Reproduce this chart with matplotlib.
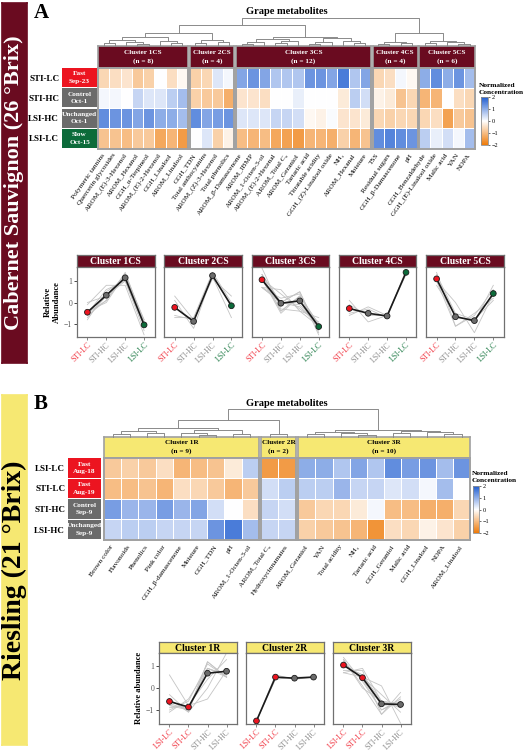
import numpy as np
import matplotlib
matplotlib.use('Agg')
import matplotlib.pyplot as plt
from matplotlib.colors import LinearSegmentedColormap

plt.rcParams['font.family'] = ['Liberation Serif', 'DejaVu Serif']

# ---------------- Panel A : Cabernet Sauvignon ----------------
a_rows = ['STI-LC', 'STI-HC', 'LSI-HC', 'LSI-LC']
a_side = ['Fast\nSep-23', 'Control\nOct-1', 'Unchanged\nOct-1', 'Slow\nOct-15']
a_clusters = ['Cluster 1CS', 'Cluster 2CS', 'Cluster 3CS', 'Cluster 4CS', 'Cluster 5CS']
a_n = [8, 4, 12, 4, 6]
a_labels = [
    ['Polymeric tannins', 'Quercetin glycosides', 'AROM_(E)-3-Hexenol', 'AROM_Hexanol',
     'GGH_α-Terpineol', 'AROM_(E)-2-Hexenol', 'GGH_Linalool', 'AROM_Linalool'],
    ['GGH_TDN', 'Total anthocyanins', 'AROM_(Z)-3-Hexenol', 'Total phenolics'],
    ['AROM_β-Damascenone', 'AROM_IBMP', 'AROM_1-Octen-3-ol', 'AROM_(E)-2-Hexenal',
     'AROM_Total C₆', 'AROM_Geraniol', 'Tartaric acid', 'Titratable acidity',
     'GGH_(Z)-Linalool oxide', 'NH₃', 'AROM_Hexanal', 'Moisture'],
    ['TSS', 'Residual sugars', 'GGH_β-Damascenone', 'pH'],
    ['GGH_Benzaldehyde', 'GGH_(E)-Linalool oxide', 'Malic acid', 'YAN', 'NOPA'],
]
# normalized concentration, rows = a_rows
a1 = [[-0.6, -0.5, -0.4, -0.8, -0.7, 0.0, -0.5, -0.1],
      [0.1, 0.1, 0.0, 0.5, 0.3, 0.3, 0.6, 0.8],
      [1.4, 1.3, 1.3, 1.1, 1.3, 1.0, 1.0, 0.8],
      [-0.9, -0.9, -1.0, -0.8, -0.8, -1.3, -1.1, -1.5]]
a2 = [[-0.7, -0.6, 0.3, 0.1],
      [-0.7, -0.8, -0.8, -1.2],
      [1.4, 1.1, 1.2, 1.3],
      [0.0, 0.3, -0.7, -0.2]]
a3 = [[1.1, 1.3, 1.1, 0.7, 0.7, 0.7, 1.3, 1.3, 1.1, 1.6, 0.7, 1.1],
      [-0.4, -0.4, -0.5, 0.0, 0.0, 0.2, 0.0, 0.0, 0.0, -0.3, 0.6, 0.4],
      [0.3, 0.3, 0.3, 0.5, 0.5, 0.4, -0.1, -0.2, 0.05, -0.4, -0.4, -0.3],
      [-1.0, -1.1, -1.0, -1.3, -1.4, -1.5, -1.1, -1.1, -1.2, -0.7, -1.1, -0.9]]
a4 = [[-0.6, -0.5, 0.1, -0.1],
      [-0.2, -0.3, -0.9, -0.6],
      [-0.6, -0.7, -0.6, -0.6],
      [1.4, 1.5, 1.4, 1.3]]
a5 = [[1.0, 1.4, 1.0, 1.3, 0.8],
      [-1.1, -1.1, 0.0, -0.5, -0.6],
      [-0.6, -0.5, -1.4, -0.8, -0.9],
      [0.6, 0.2, 0.4, 0.1, 0.8]]
a_vals = [a1, a2, a3, a4, a5]

# dendrogram (height, left, right); ints = leaves, 'cK' = cluster K subtree
a_trees = [
    (9, (6, (3, 0, 1), (4, 2, (2, 3, 4))), (5, 5, (3, 6, 7))),
    (6, (3, 0, 1), (4, 2, 3)),
    (9, (7, (4, (2, 0, 1), 2), (5, (3, 3, 4), 5)), (8, (4, (2, 6, 7), 8), (5, 9, (3, 10, 11)))),
    (4, (2, 0, 1), (3, 2, 3)),
    (5, (3, 0, 1), (4, 2, (2, 3, 4))),
]
a_top = (28, (21, (13, 'c0', 'c1'), 'c2'), (13, 'c3', 'c4'))

# ---------------- Panel B : Riesling ----------------
b_rows = ['LSI-LC', 'STI-LC', 'STI-HC', 'LSI-HC']
b_side = ['Fast\nAug-18', 'Fast\nAug-19', 'Control\nSep-9', 'Unchanged\nSep-9']
b_clusters = ['Cluster 1R', 'Cluster 2R', 'Cluster 3R']
b_n = [9, 2, 10]
b_labels = [
    ['Brown color', 'Flavonoids', 'Phenolics', 'Pink color', 'GGH_β-damascenone',
     'Moisture', 'GGH_TDN', 'pH', 'AROM_1-Octen-3-ol'],
    ['AROM_Total C₆', 'Hydroxycinnamates'],
    ['AROM_Geraniol', 'YAN', 'Total acidity', 'NH₃', 'Tartaric acid', 'GGH_Geraniol',
     'Malic acid', 'GGH_Linalool', 'NOPA', 'AROM_Linalool'],
]
b1 = [[-0.8, -0.7, -0.8, -0.5, -1.1, -1.0, -0.9, -0.3, 0.6],
      [-1.0, -1.0, -0.9, -1.1, -0.5, -0.6, -0.8, -1.1, -0.8],
      [1.2, 0.9, 0.9, 1.2, 0.9, 1.1, 0.4, 0.0, -0.5],
      [0.5, 0.6, 0.6, 0.5, 0.5, 0.5, 1.3, 1.6, 0.8]]
b2 = [[-1.5, -1.5],
      [0.4, 0.6],
      [0.5, 0.4],
      [0.5, 0.5]]
b3 = [[1.0, 1.0, 0.7, 1.1, 0.7, 1.4, 1.2, 1.3, 0.8, 1.3],
      [0.6, 0.6, 0.9, 0.5, 0.5, 0.3, 0.4, 0.1, 0.8, 0.0],
      [-0.8, -0.6, -0.6, -0.3, 0.1, -1.0, -1.0, -1.2, -1.2, -0.6],
      [-0.7, -0.8, -0.9, -1.1, -1.6, -0.5, -0.6, -0.2, -0.4, -0.7]]
b_vals = [b1, b2, b3]
b_trees = [
    (9, (6, (3, 0, 1), (4, 2, 3)), (7, (4, 4, (2, 5, 6)), (3, 7, 8))),
    (3, 0, 1),
    (7, (5, (3, 0, 1), (4, 2, (2, 3, 4))), (6, (4, 5, 6), (5, 7, (3, 8, 9)))),
]
b_top = (28, (17, 'c0', 'c1'), 'c2')

# ---------------- colours ----------------
MAROON = '#6A0B20'
YELLOW = '#F6E872'
RED = '#EC1420'
GRAY = '#6B6B6B'
GREEN = '#0C6B3A'
EDGE = '#A0A0A0'
cmap = LinearSegmentedColormap.from_list('oc', ['#EE7A08', '#FFFFFF', '#1E5CD0'])

fig = plt.figure(figsize=(5.3, 7.5), dpi=100)
W, H = 530.0, 750.0


def px_axes(x0, y0, x1, y1):
    return fig.add_axes([x0 / W, 1 - y1 / H, (x1 - x0) / W, (y1 - y0) / H])


def bare(ax, edge=EDGE, lw=1.2):
    ax.set_xticks([])
    ax.set_yticks([])
    for s in ax.spines.values():
        s.set_color(edge)
        s.set_linewidth(lw)


def draw_node(ax, node, xs, trees, k=None):
    if isinstance(node, str):
        idx = int(node[1:])
        return draw_node(ax, trees[idx], xs, trees, idx)
    if isinstance(node, int):
        return xs[k][node], 0
    h, l, r = node
    xl, hl = draw_node(ax, l, xs, trees, k)
    xr, hr = draw_node(ax, r, xs, trees, k)
    ax.plot([xl, xl, xr, xr], [hl, h, h, hr], color='#8A8A8A', lw=0.7, clip_on=False)
    return (xl + xr) / 2, h


def heat_panel(vals_list, labels_list, names, nlist, x_start, col_w, gap,
               tree_y, head_y, cell_y, head_c, head_tc, trees, top):
    xs = []
    x = x_start
    m = None
    for k, v in enumerate(vals_list):
        v = np.asarray(v)
        nc = v.shape[1]
        x1 = x + nc * col_w
        hax = px_axes(x, head_y[0], x1, head_y[1])
        hax.set_facecolor(head_c)
        bare(hax)
        hax.text(0.5, 0.5, f'{names[k]}\n(n = {nlist[k]})', transform=hax.transAxes,
                 ha='center', va='center', color=head_tc, fontsize=5.2,
                 fontweight='bold', linespacing=1.7)
        ax = px_axes(x, cell_y[0], x1, cell_y[1])
        m = ax.pcolormesh(v, cmap=cmap, vmin=-2, vmax=2, edgecolors='white', linewidth=0.6)
        ax.set_ylim(v.shape[0], 0)
        ax.set_xlim(0, nc)
        bare(ax, lw=1.4)
        ax.set_xticks(np.arange(nc) + 0.5, labels_list[k], rotation=55, ha='right',
                      va='center', rotation_mode='anchor', fontsize=5.3)
        ax.tick_params(axis='x', length=0, pad=4)
        xs.append(x + (np.arange(nc) + 0.5) * col_w)
        x = x1 + gap
    x_end = x - gap
    dax = px_axes(x_start, tree_y, x_end, head_y[0])
    dax.set_xlim(x_start, x_end)
    dax.set_ylim(0, head_y[0] - tree_y)
    dax.axis('off')
    draw_node(dax, top, xs, trees)
    return m, x_end


def side_boxes(x0, x1, cell_y, rows, texts, colors, fs):
    sax = px_axes(x0, cell_y[0], x1, cell_y[1])
    pos = np.arange(len(rows))
    sax.barh(pos, 1, height=0.94, color=colors)
    for i, t in enumerate(texts):
        sax.text(0.5, i, t, ha='center', va='center', color='white', fontsize=5.2,
                 fontweight='bold', linespacing=1.6)
    sax.set_xlim(0, 1)
    sax.set_ylim(len(rows) - 0.5, -0.5)
    sax.set_xticks([])
    sax.set_yticks(pos, rows, fontsize=fs, fontweight='bold')
    sax.tick_params(axis='y', length=0, pad=2)
    for s in sax.spines.values():
        s.set_visible(False)


def color_bar(m, cax_box, label_xy):
    cax = px_axes(*cax_box)
    cb = fig.colorbar(m, cax=cax, ticks=[-2, -1, 0, 1, 2])
    cb.ax.tick_params(labelsize=4.5, length=1.5, width=0.4, pad=1)
    cb.outline.set_edgecolor('#909090')
    cb.outline.set_linewidth(0.6)
    fig.text(label_xy[0] / W, 1 - label_xy[1] / H, 'Normalized\nConcentration',
             fontsize=5.3, fontweight='bold', va='center', ha='left', linespacing=1.7)


def line_panel(x0, w, head_y, ax_y, vals, name, head_c, head_tc, xt, xt_colors,
               pt_colors, ylim, show_y):
    hax = px_axes(x0, head_y[0], x0 + w, head_y[1])
    hax.set_facecolor(head_c)
    bare(hax, edge='#707070', lw=0.9)
    hax.text(0.5, 0.45, name, transform=hax.transAxes, ha='center', va='center',
             color=head_tc, fontsize=7, fontweight='bold')
    ax = px_axes(x0, ax_y[0], x0 + w, ax_y[1])
    v = np.asarray(vals)
    xp = np.arange(v.shape[0])
    for j in range(v.shape[1]):
        ax.plot(xp, v[:, j], color='#C4C4C4', lw=0.6)
    mean = v.mean(axis=1)
    ax.plot(xp, mean, color='#1A1A1A', lw=1.2, zorder=3)
    ax.scatter(xp, mean, s=17, c=pt_colors, edgecolors='#1A1A1A', linewidths=0.6, zorder=4)
    ax.set_xlim(-0.55, 3.55)
    ax.set_ylim(*ylim)
    ax.set_xticks(xp, xt, rotation=45, ha='right', rotation_mode='anchor', fontsize=5.6)
    for t, c in zip(ax.get_xticklabels(), xt_colors):
        t.set_color(c)
    ax.set_yticks([-1, 0, 1])
    if show_y:
        ax.tick_params(axis='y', labelsize=5.5, labelcolor='#555555', length=2, width=0.5, pad=1.5)
    else:
        ax.set_yticklabels([])
        ax.tick_params(axis='y', length=0)
    ax.tick_params(axis='x', length=2, width=0.5, pad=1, color='#555555')
    for s in ax.spines.values():
        s.set_color('#707070')
        s.set_linewidth(0.9)


# ================= Panel A =================
bar = px_axes(2, 3, 27, 363)
bar.set_facecolor(MAROON)
bare(bar, edge=MAROON)
bar.text(0.5, 0.5, 'Cabernet Sauvignon (26 °Brix)', transform=bar.transAxes, rotation=90,
         ha='center', va='center', color='white', fontsize=16, fontweight='bold')
fig.text(34 / W, 1 - 13 / H, 'A', fontsize=15, fontweight='bold', va='center')
fig.text(287 / W, 1 - 12 / H, 'Grape metabolites', fontsize=7.5, fontweight='bold',
         ha='center', va='center')

m, _ = heat_panel(a_vals, a_labels, a_clusters, a_n, 98, 11.25, 1.5,
                  18, (46, 67.5), (67.5, 148.5), MAROON, 'white', a_trees, a_top)
side_boxes(62, 97, (67.5, 148.5), a_rows, a_side, [RED, GRAY, GRAY, GREEN], 6.5)
color_bar(m, (481, 97, 488, 145), (479, 89))

a_xt_colors = ['#F0303C', '#8A8A8A', '#8A8A8A', '#1E7A45']
a_pt_colors = [RED, GRAY, GRAY, GREEN]
for i, v in enumerate(a_vals):
    line_panel(77 + i * 87.3, 77.5, (255, 267), (267, 337), v, a_clusters[i], MAROON, 'white',
               a_rows, a_xt_colors, a_pt_colors, (-1.6, 1.65), i == 0)
fig.text(52 / W, 1 - 302 / H, 'Relative\nAbundance', rotation=90, ha='center', va='center',
         fontsize=6.2, fontweight='bold', linespacing=1.2)

# ================= Panel B =================
bar = px_axes(2, 395, 27, 745)
bar.set_facecolor(YELLOW)
bare(bar, edge=YELLOW)
bar.text(0.5, 0.5, 'Riesling (21 °Brix)', transform=bar.transAxes, rotation=90,
         ha='center', va='center', color='black', fontsize=20, fontweight='bold')
fig.text(34 / W, 1 - 404 / H, 'B', fontsize=15, fontweight='bold', va='center')
fig.text(287 / W, 1 - 403 / H, 'Grape metabolites', fontsize=7.5, fontweight='bold',
         ha='center', va='center')

m, _ = heat_panel(b_vals, b_labels, b_clusters, b_n, 104, 17.2, 2.5,
                  409, (437, 457.5), (457.5, 540), YELLOW, 'black', b_trees, b_top)
side_boxes(68, 101, (457.5, 540), b_rows, b_side, [RED, RED, GRAY, GRAY], 6.5)
color_bar(m, (473, 486, 479, 533), (472, 477))

b_xt_colors = ['#F0303C', '#F0303C', '#8A8A8A', '#8A8A8A']
b_pt_colors = [RED, RED, GRAY, GRAY]
for i, v in enumerate(b_vals):
    line_panel(159 + i * 87, 78, (642, 653), (653, 724), v, b_clusters[i], YELLOW, 'black',
               b_rows, b_xt_colors, b_pt_colors, (-1.64, 1.6), i == 0)
fig.text(139 / W, 1 - 688 / H, 'Relative abundance', rotation=90, ha='center', va='center',
         fontsize=6.2, fontweight='bold')

fig.savefig('out.png', dpi=100)
